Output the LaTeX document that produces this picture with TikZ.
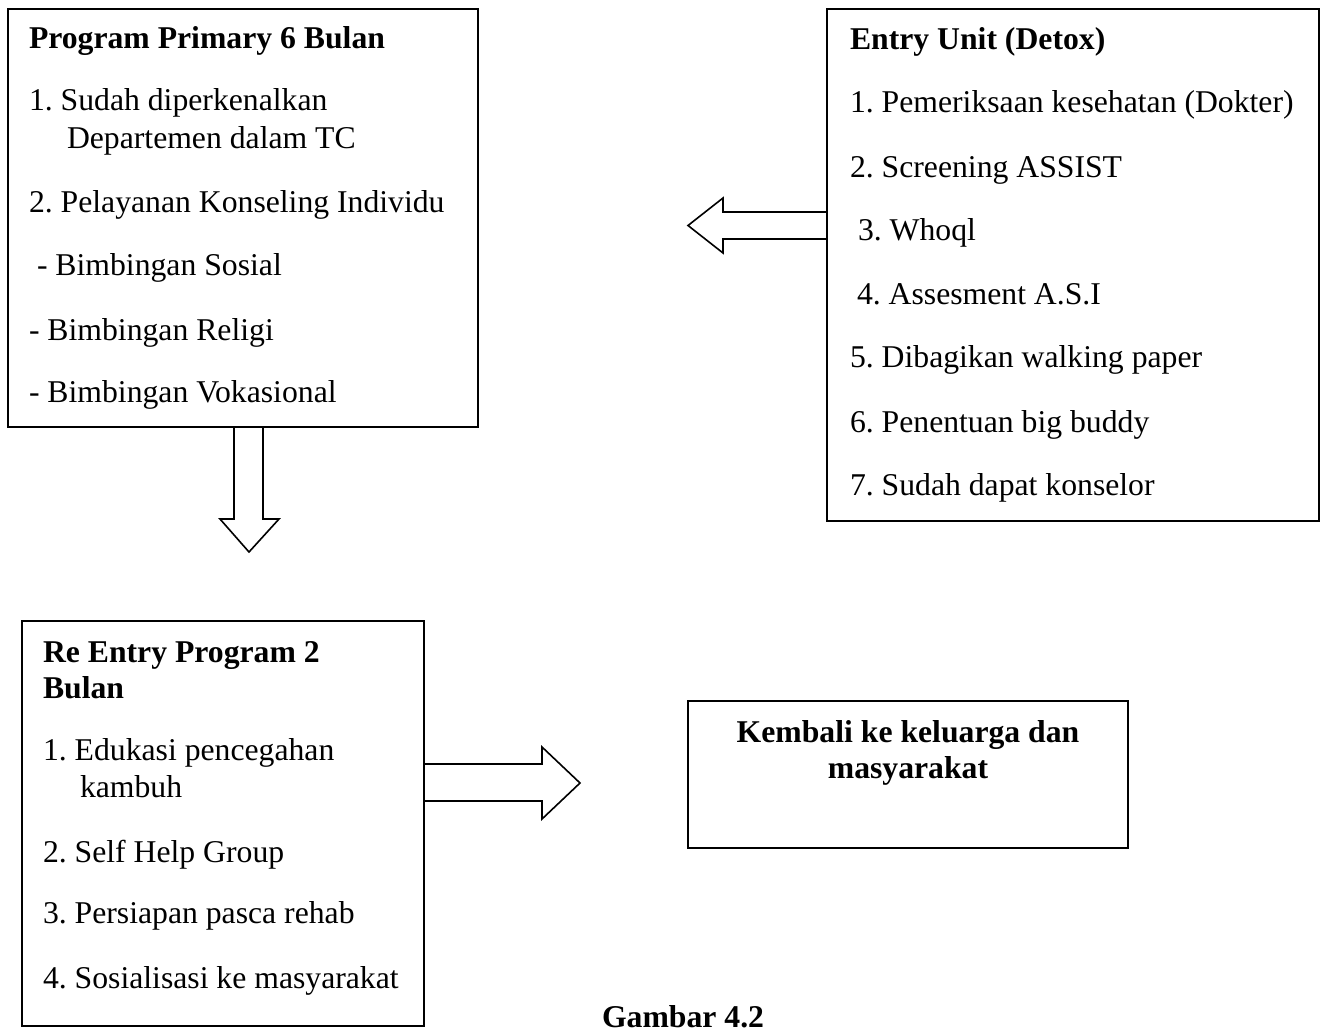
\documentclass[tikz,border=0pt]{standalone}
\usepackage{fontspec}
\setmainfont{Liberation Serif}
\frenchspacing
\begin{document}
\begin{tikzpicture}[x=1pt,y=-1pt,
  box/.style={draw=black,line width=1.6pt,anchor=north west,inner sep=0pt,outer sep=0pt},
  txt/.style={anchor=base west,inner sep=0pt,outer sep=0pt,font=\fontsize{31.7}{36}\selectfont\frenchspacing},
  hd/.style={txt,font=\fontsize{31.7}{36}\selectfont\bfseries\frenchspacing},
  blk/.style={draw=black,line width=1.6pt,line join=miter}]
\useasboundingbox (0,0) rectangle (1327,1034);
% boxes
\node[box,minimum width=470pt,minimum height=418pt] (b1) at (8,9) {};
\node[box,minimum width=492pt,minimum height=512pt] (b2) at (827,9) {};
\node[box,minimum width=402pt,minimum height=405pt] (b3) at (22,621) {};
\node[box,minimum width=440pt,minimum height=147pt] (b4) at (688,701) {};
% box 1 text
\node[hd] (t1) at (29,48) {Program Primary 6 Bulan};
\node[txt] (t1a) at (29,110) {1. Sudah diperkenalkan};
\node[txt] (t1b) at (67,148) {Departemen dalam TC};
\node[txt] (t1c) at (29,212) {2. Pelayanan Konseling Individu};
\node[txt] (t1d) at (37,275) {- Bimbingan Sosial};
\node[txt] (t1e) at (29,340) {- Bimbingan Religi};
\node[txt] (t1f) at (29,402) {- Bimbingan Vokasional};
% box 2 text
\node[hd] (t2) at (850,49) {Entry Unit (Detox)};
\node[txt] (t2a) at (850,112) {1. Pemeriksaan kesehatan (Dokter)};
\node[txt] (t2b) at (850,177) {2. Screening ASSIST};
\node[txt] (t2c) at (858,240) {3. Whoql};
\node[txt] (t2d) at (857,304) {4. Assesment A.S.I};
\node[txt] (t2e) at (850,367) {5. Dibagikan walking paper};
\node[txt] (t2f) at (850,432) {6. Penentuan big buddy};
\node[txt] (t2g) at (850,495) {7. Sudah dapat konselor};
% box 3 text
\node[hd] (t3) at (43,662) {Re Entry Program 2};
\node[hd] (t3h) at (43,698) {Bulan};
\node[txt] (t3a) at (43,760) {1. Edukasi pencegahan};
\node[txt] (t3b) at (80,797) {kambuh};
\node[txt] (t3c) at (43,862) {2. Self Help Group};
\node[txt] (t3d) at (43,923) {3. Persiapan pasca rehab};
\node[txt] (t3e) at (43,988) {4. Sosialisasi ke masyarakat};
% box 4 text
\node[hd,anchor=base] (t4) at (908,742) {Kembali ke keluarga dan};
\node[hd,anchor=base] (t4b) at (908,778) {masyarakat};
% caption
\node[hd] (cap) at (602,1027) {Gambar 4.2};
% block arrows
\draw[blk] (b2.north west) ++(0,203) -- ++(-104,0) -- ++(0,-14) -- ++(-35,27.5) -- ++(35,27.5) -- ++(0,-14) -- ++(104,0);
\draw[blk] (b1.south west) ++(226,0) -- ++(0,92) -- ++(-14,0) -- ++(29,33) -- ++(30,-33) -- ++(-16,0) -- ++(0,-92);
\draw[blk] (b3.north east) ++(0,143) -- ++(118,0) -- ++(0,-17) -- ++(38,36) -- ++(-38,36) -- ++(0,-18) -- ++(-118,0);
\end{tikzpicture}
\end{document}
